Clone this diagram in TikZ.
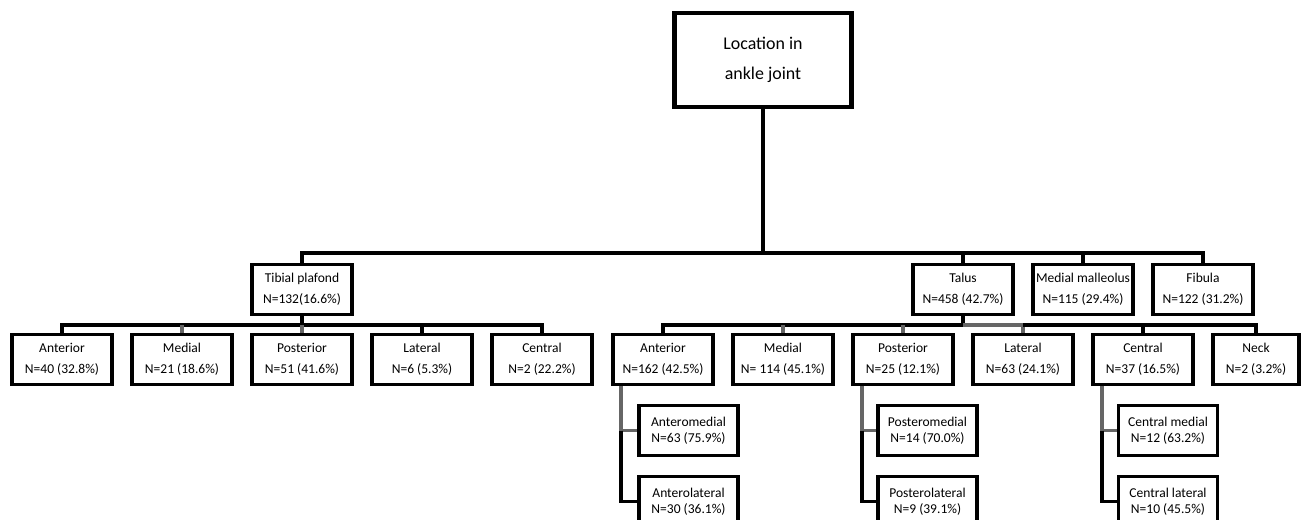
\documentclass[tikz,border=0pt]{standalone}
\usepackage{fontspec}
\setmainfont{Carlito}
\usepackage{tikz}
\usetikzlibrary{positioning}
\tikzstyle{rootbox} = [rectangle, minimum width=3.54cm, minimum height=1.88cm, text centered, align=center, draw=black, fill=white, line width=2.4pt, font=\fontsize{10.2}{17}\selectfont]
\tikzstyle{catbox} = [rectangle, minimum width=2.0cm, minimum height=1.0cm, inner sep=1pt, text centered, align=center, draw=black, fill=white, line width=2.2pt, font=\fontsize{7.7}{12}\selectfont]
\tikzstyle{subbox} = [rectangle, minimum width=1.98cm, minimum height=1.0cm, inner sep=1pt, text centered, align=center, draw=black, fill=white, line width=2.2pt, font=\fontsize{7.7}{9}\selectfont]
\tikzstyle{conn} = [line width=2.1pt, draw=black]
\tikzstyle{grayconn} = [line width=2.1pt, draw=black!60]

\begin{document}
\begin{tikzpicture}[node distance=2.4cm]
                \useasboundingbox (0,0) rectangle (26.02,-10.40);

                \node (root) [rootbox] at (15.26,-1.20) {Location in\\ankle joint};

% ---------------------------------------------
% First level
% ---------------------------------------------
                \node (tibial) [catbox] at (6.04,-5.79) {Tibial plafond\\N=132(16.6\%)};
                \node (talus) [catbox] at (19.26,-5.79) {Talus\\N=458 (42.7\%)};
                \node (malleolus) [catbox, right of = talus] {Medial malleolus\\N=115 (29.4\%)};
                \node (fibula) [catbox, right of = malleolus] {Fibula\\N=122 (31.2\%)};

                \coordinate (top_bus) at (15.26,-5.06);
                \draw [conn] (root) -- (top_bus);
                \draw [conn] (tibial.north) |- (top_bus) -| (fibula.north);
                \draw [conn] (talus.north) -- (talus.north |- top_bus);
                \draw [conn] (malleolus.north) -- (malleolus.north |- top_bus);

% ---------------------------------------------
% Tibial plafond division
% ---------------------------------------------
                \node (tib_anterior) [catbox] at (1.24,-7.19) {Anterior\\N=40 (32.8\%)};
                \node (tib_medial) [catbox, right of = tib_anterior] {Medial\\N=21 (18.6\%)};
                \node (tib_posterior) [catbox, right of = tib_medial] {Posterior\\N=51 (41.6\%)};
                \node (tib_lateral) [catbox, right of = tib_posterior] {Lateral\\N=6 (5.3\%)};
                \node (tib_central) [catbox, right of = tib_lateral] {Central\\N=2 (22.2\%)};

                \coordinate (tib_bus) at (6.04,-6.50);
                \draw [conn] (tibial) -- (tib_bus);
                \draw [conn] (tib_anterior.north) |- (tib_bus) -| (tib_central.north);
                \draw [grayconn] (tib_medial.north) -- (tib_medial.north |- tib_bus);
                \draw [grayconn] (tib_posterior.north) -- (tib_posterior.north |- tib_bus);
                \draw [conn] (tib_lateral.north) -- (tib_lateral.north |- tib_bus);

% ---------------------------------------------
% Talus division
% ---------------------------------------------
                \node (tal_anterior) [catbox] at (13.26,-7.19) {Anterior\\N=162 (42.5\%)};
                \node (tal_medial) [catbox, right of = tal_anterior] {Medial\\N= 114 (45.1\%)};
                \node (tal_posterior) [catbox, right of = tal_medial] {Posterior\\N=25 (12.1\%)};
                \node (tal_lateral) [catbox, right of = tal_posterior] {Lateral\\N=63 (24.1\%)};
                \node (tal_central) [catbox, right of = tal_lateral] {Central\\N=37 (16.5\%)};
                \node (tal_neck) [catbox, minimum width=1.72cm] at (25.12,-7.19) {Neck\\N=2 (3.2\%)};

                \coordinate (tal_bus) at (19.26,-6.50);
                \draw [conn] (talus) -- (tal_bus);
                \draw [conn] (tal_anterior.north) |- (tal_bus);
                \draw [grayconn] (tal_bus) -| (tal_lateral.north);
                \draw [conn] (tal_lateral.north |- tal_bus) -| (tal_neck.north);
                \draw [grayconn] (tal_medial.north) -- (tal_medial.north |- tal_bus);
                \draw [grayconn] (tal_posterior.north) -- (tal_posterior.north |- tal_bus);
                \draw [conn] (tal_central.north) -- (tal_central.north |- tal_bus);

% ---------------------------------------------
% Sub-locations of the talus
% ---------------------------------------------
                \node (anteromedial) [subbox] at (13.77,-8.61) {Anteromedial\\N=63 (75.9\%)};
                \node (anterolateral) [subbox] at (13.77,-10.03) {Anterolateral\\N=30 (36.1\%)};
                \node (posteromedial) [subbox] at (18.55,-8.61) {Posteromedial\\N=14 (70.0\%)};
                \node (posterolateral) [subbox] at (18.55,-10.03) {Posterolateral\\N=9 (39.1\%)};
                \node (central_medial) [subbox] at (23.36,-8.61) {Central medial\\N=12 (63.2\%)};
                \node (central_lateral) [subbox] at (23.36,-10.03) {Central lateral\\N=10 (45.5\%)};

                \coordinate (ant_v) at ([xshift=0.2cm]tal_anterior.south west);
                \coordinate (post_v) at ([xshift=0.22cm]tal_posterior.south west);
                \coordinate (cen_v) at ([xshift=0.22cm]tal_central.south west);

                \draw [grayconn] (ant_v) |- (anteromedial.west);
                \draw [conn] (ant_v |- anteromedial.west) |- (anterolateral.west);
                \draw [grayconn] (post_v) |- (posteromedial.west);
                \draw [conn] (post_v |- posteromedial.west) |- (posterolateral.west);
                \draw [grayconn] (cen_v) |- (central_medial.west);
                \draw [conn] (cen_v |- central_medial.west) |- (central_lateral.west);

\end{tikzpicture}
\end{document}
